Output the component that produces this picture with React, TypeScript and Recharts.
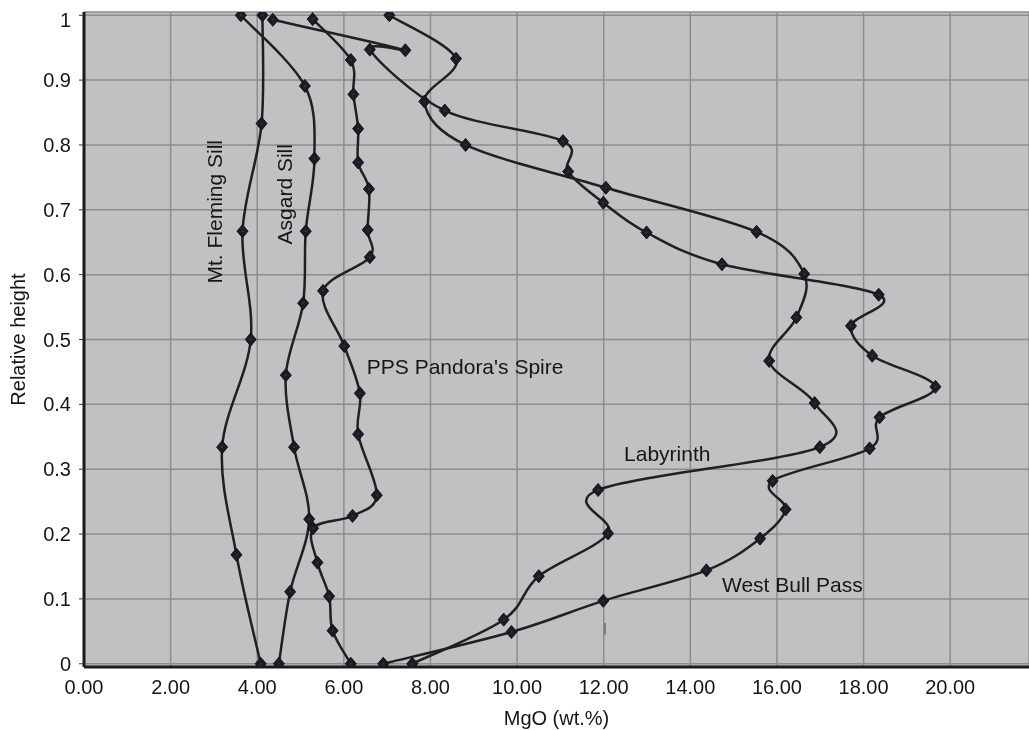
import React from 'react';
import { LineChart, Line, XAxis, YAxis, CartesianGrid, ReferenceDot, ReferenceLine } from 'recharts';

// ---- Data (MgO wt.% vs relative height) ----
const flemingMgO = [4.12, 4.1, 3.66, 3.85, 3.19, 3.52, 4.08];
const flemingHeight = [1.0, 0.833, 0.667, 0.5, 0.334, 0.168, 0.0];

const asgardMgO = [3.62, 5.1, 5.32, 5.12, 5.06, 4.66, 4.85, 5.2, 4.76, 4.5];
const asgardHeight = [1.0, 0.891, 0.779, 0.667, 0.556, 0.445, 0.334, 0.223, 0.111, 0.0];

const ppsMgO = [5.28, 6.16, 6.22, 6.33, 6.33, 6.58, 6.55, 6.6, 5.52, 6.01, 6.37, 6.33, 6.76, 6.2, 5.29, 5.39, 5.66, 5.74, 6.16];
const ppsHeight = [0.994, 0.931, 0.878, 0.825, 0.773, 0.732, 0.669, 0.627, 0.575, 0.49, 0.417, 0.354, 0.26, 0.228, 0.209, 0.156, 0.104, 0.051, 0.0];

const labyrinthMgO = [7.05, 8.59, 7.86, 8.81, 12.05, 15.53, 16.63, 16.45, 15.82, 16.87, 16.99, 11.87, 12.1, 10.5, 9.69, 7.58];
const labyrinthHeight = [1.0, 0.933, 0.867, 0.8, 0.734, 0.666, 0.601, 0.534, 0.467, 0.402, 0.334, 0.268, 0.201, 0.135, 0.068, 0.0];

const westBullMgO = [4.36, 7.42, 6.6, 8.33, 11.06, 11.18, 11.99, 12.99, 14.73, 18.35, 17.71, 18.2, 19.66, 18.37, 18.14, 15.9, 16.2, 15.61, 14.37, 11.99, 9.87, 6.91];
const westBullHeight = [0.993, 0.946, 0.947, 0.853, 0.806, 0.759, 0.711, 0.665, 0.616, 0.569, 0.521, 0.475, 0.427, 0.38, 0.332, 0.282, 0.238, 0.193, 0.144, 0.097, 0.049, 0.0];

const xTicks = [0, 2, 4, 6, 8, 10, 12, 14, 16, 18, 20];
const yTicks = [0, 0.1, 0.2, 0.3, 0.4, 0.5, 0.6, 0.7, 0.8, 0.9, 1];

const seriesNames = ['Mt. Fleming Sill', 'Asgard Sill', "PPS Pandora's Spire", 'Labyrinth', 'West Bull Pass'];
// annotation anchors in data units (MgO, relative height)
const noteX = [3.01, 4.64, 6.53, 12.47, 14.73];
const noteY = [0.697, 0.724, 0.447, 0.313, 0.111];
const noteAngle = [-90, -90, 0, 0, 0];

const toRows = (xs: number[], ys: number[]) => xs.map((x, i) => ({ x, y: ys[i] }));

const FONT = '"Liberation Sans", Arial, Helvetica, sans-serif';
const INK = '#161616';

// Excel-like smoothed line (Catmull-Rom through the points)
function smoothCurve(context: any) {
  let pts: number[][] = [];
  return {
    areaStart() {},
    areaEnd() {},
    lineStart() {
      pts = [];
    },
    lineEnd() {
      const n = pts.length;
      if (!n) return;
      context.moveTo(pts[0][0], pts[0][1]);
      for (let i = 0; i < n - 1; i++) {
        const p0 = pts[i === 0 ? 0 : i - 1];
        const p1 = pts[i];
        const p2 = pts[i + 1];
        const p3 = pts[i + 2 < n ? i + 2 : n - 1];
        const t = 1 / 6;
        context.bezierCurveTo(
          p1[0] + (p2[0] - p0[0]) * t,
          p1[1] + (p2[1] - p0[1]) * t,
          p2[0] - (p3[0] - p1[0]) * t,
          p2[1] - (p3[1] - p1[1]) * t,
          p2[0],
          p2[1]
        );
      }
    },
    point(x: number, y: number) {
      pts.push([+x, +y]);
    },
  };
}

const Diamond = (props: any) => {
  const { cx, cy, index } = props;
  if (cx == null || cy == null) return <g key={index} />;
  return (
    <g key={`d-${index}-${cx}-${cy}`}>
      <path
        d={`M${cx},${cy - 6.5}L${cx + 5.5},${cy}L${cx},${cy + 6.5}L${cx - 5.5},${cy}Z`}
        fill="#1d1c22"
        stroke="#121212"
        strokeWidth={1}
      />
      <circle cx={cx} cy={cy} r={1.1} fill="#2c2c86" />
    </g>
  );
};

const makeNote = (text: string, angle: number) => (props: any) => {
  const vb = props.viewBox || {};
  const x = vb.x + (vb.width || 0) / 2;
  const y = vb.y + (vb.height || 0) / 2;
  if (angle !== 0) {
    return (
      <text
        x={x}
        y={y}
        transform={`rotate(${angle}, ${x}, ${y})`}
        textAnchor="middle"
        dominantBaseline="central"
        fontFamily={FONT}
        fontSize={21}
        fill={INK}
      >
        {text}
      </text>
    );
  }
  return (
    <text x={x} y={y} textAnchor="start" fontFamily={FONT} fontSize={21} fill={INK}>
      {text}
    </text>
  );
};

const YTitle = (props: any) => {
  const vb = props.viewBox || {};
  const x = vb.x + 10;
  const y = vb.y + vb.height / 2;
  return (
    <text
      x={x}
      y={y}
      transform={`rotate(-90, ${x}, ${y})`}
      textAnchor="middle"
      dominantBaseline="central"
      fontFamily={FONT}
      fontSize={20}
      fill={INK}
    >
      Relative height
    </text>
  );
};

export default function App() {
  const series = [
    toRows(flemingMgO, flemingHeight),
    toRows(asgardMgO, asgardHeight),
    toRows(ppsMgO, ppsHeight),
    toRows(labyrinthMgO, labyrinthHeight),
    toRows(westBullMgO, westBullHeight),
  ];
  const xMax = 21.82;
  return (
    <div style={{ position: 'fixed', left: 8, top: 8, width: 1021, height: 722 }}>
      <LineChart width={1021} height={722} margin={{ top: 4, right: 0, left: 0, bottom: 0 }}>
        <CartesianGrid stroke="#8d8d8f" strokeWidth={1.5} fill="#c0c1c3" fillOpacity={1} />
        <XAxis
          dataKey="x"
          type="number"
          domain={[0, xMax]}
          allowDataOverflow
          ticks={xTicks}
          tickFormatter={(v: number) => v.toFixed(2)}
          tickLine={false}
          tickSize={6}
          tickMargin={7}
          height={63}
          axisLine={{ stroke: '#1a1a1a', strokeWidth: 3 }}
          tick={{ fontSize: 20, fill: INK, fontFamily: FONT }}
          label={{ value: 'MgO (wt.%)', position: 'insideBottom', offset: 5, fontSize: 20, fill: INK, fontFamily: FONT }}
        />
        <XAxis
          xAxisId="top"
          orientation="top"
          type="number"
          domain={[0, xMax]}
          allowDataOverflow
          height={0}
          tick={false}
          tickLine={false}
          axisLine={{ stroke: '#1a1a1a', strokeWidth: 3 }}
        />
        <YAxis
          type="number"
          domain={[-0.005, 1.005]}
          allowDataOverflow
          ticks={yTicks}
          tickFormatter={(v: number) => String(Math.round(v * 10) / 10)}
          width={76}
          tickSize={5}
          tickMargin={8}
          tickLine={{ stroke: '#333' }}
          axisLine={{ stroke: '#1a1a1a', strokeWidth: 3 }}
          tick={{ fontSize: 20, fill: INK, fontFamily: FONT }}
          label={YTitle}
        />
        {series.map((rows, i) => (
          <Line
            key={seriesNames[i]}
            name={seriesNames[i]}
            data={rows}
            dataKey="y"
            type={smoothCurve as any}
            stroke="#231f20"
            strokeWidth={2.5}
            dot={Diamond}
            activeDot={false}
            isAnimationActive={false}
          />
        ))}
        {seriesNames.map((name, i) => (
          <ReferenceDot
            key={`note-${i}`}
            x={noteX[i]}
            y={noteY[i]}
            r={0}
            fill="none"
            stroke="none"
            label={makeNote(name, noteAngle[i])}
          />
        ))}
        <ReferenceLine
          segment={[
            { x: 12.03, y: 0.045 },
            { x: 12.03, y: 0.063 },
          ]}
          stroke="#444"
          strokeWidth={1}
        />
      </LineChart>
    </div>
  );
}
